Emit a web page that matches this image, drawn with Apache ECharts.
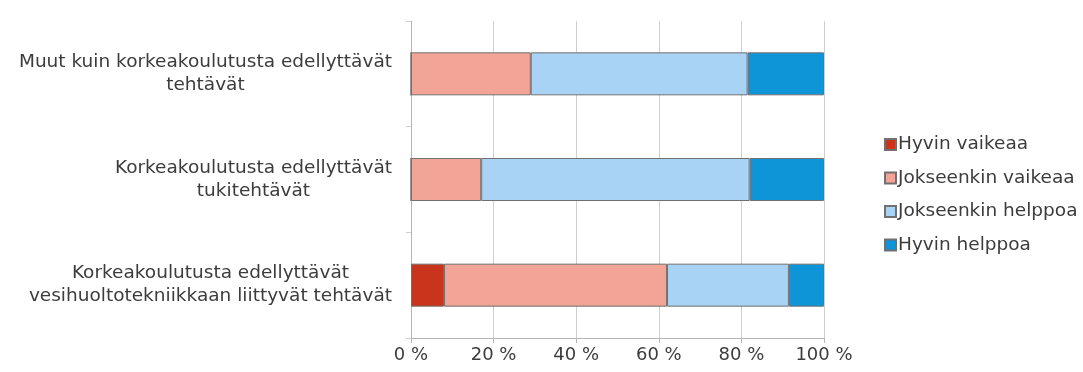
<!DOCTYPE html>
<html>
<head>
<meta charset="utf-8">
<script src="https://cdn.jsdelivr.net/npm/echarts@6/dist/echarts.min.js"></script>
<style>
  html, body { margin: 0; padding: 0; background: #fff; }
  #chart { width: 1083px; height: 372px; }
</style>
</head>
<body>
<div id="chart"></div>
<script>
// categories, top to bottom
var categories = [
  ['Muut kuin korkeakoulutusta edellyttävät', 'tehtävät'],
  ['Korkeakoulutusta edellyttävät', 'tukitehtävät'],
  ['Korkeakoulutusta edellyttävät', 'vesihuoltotekniikkaan liittyvät tehtävät']
]
var seriesNames = ['Hyvin vaikeaa', 'Jokseenkin vaikeaa', 'Jokseenkin helppoa', 'Hyvin helppoa']
var hyvinVaikeaa = [0, 0, 8]
var jokseenkinVaikeaa = [29, 17, 54]
var jokseenkinHelppoa = [52.5, 65, 29.5]
var hyvinHelppoa = [18.5, 18, 8.5]
var xTicks = [0, 20, 40, 60, 80, 100]

var colors = ['#c9341c', '#f2a597', '#a9d3f5', '#0e95d8']
var values = [hyvinVaikeaa, jokseenkinVaikeaa, jokseenkinHelppoa, hyvinHelppoa]
var font = 'DejaVu Sans'

var catLabels = []
for (var i = 0; i < categories.length; i++) {
  catLabels[i] = categories[i].join('\n')
}

var series = []
for (var s = 0; s < seriesNames.length; s++) {
  series.push({
    name: seriesNames[s],
    type: 'bar',
    stack: 'total',
    barWidth: 43,
    data: values[s],
    itemStyle: {
      color: colors[s],
      borderColor: '#707070',
      borderWidth: 1
    }
  })
}

var myChart = echarts.init(document.getElementById('chart'))
var option = {
  animation: false,
  textStyle: { fontFamily: font },
  grid: { left: 411, right: 259, top: 21, bottom: 34 },
  legend: {
    orient: 'vertical',
    left: 879,
    top: 130,
    itemWidth: 11,
    itemHeight: 11,
    itemGap: 14.5,
    icon: 'rect',
    data: seriesNames,
    textStyle: { fontFamily: font, fontSize: 18.5, color: '#3c3c3c', padding: [0, 0, 0, -3] }
  },
  xAxis: {
    type: 'value',
    min: 0,
    max: 100,
    interval: 20,
    axisLine: { show: true, lineStyle: { color: '#b5b5b5' } },
    axisTick: { show: true, length: 5, lineStyle: { color: '#b5b5b5' } },
    splitLine: { show: true, lineStyle: { color: '#cfcfcf' } },
    axisLabel: {
      margin: 8,
      fontFamily: font,
      fontSize: 18,
      color: '#3c3c3c',
      formatter: function (v) {
        return xTicks.indexOf(v) >= 0 ? v + ' %' : ''
      }
    }
  },
  yAxis: {
    type: 'category',
    inverse: true,
    data: catLabels,
    axisLine: { show: true, lineStyle: { color: '#b5b5b5' } },
    axisTick: { show: true, length: 5, lineStyle: { color: '#cfcfcf' } },
    axisLabel: {
      margin: 19,
      align: 'right',
      formatter: function (v) {
        return v.split('\n').map(function (l) { return '{c|' + l + '}' }).join('\n')
      },
      rich: {
        c: { align: 'center', fontFamily: font, fontSize: 18.5, color: '#3c3c3c', lineHeight: 23 }
      }
    }
  },
  series: series
}
myChart.setOption(option)
</script>
</body>
</html>
